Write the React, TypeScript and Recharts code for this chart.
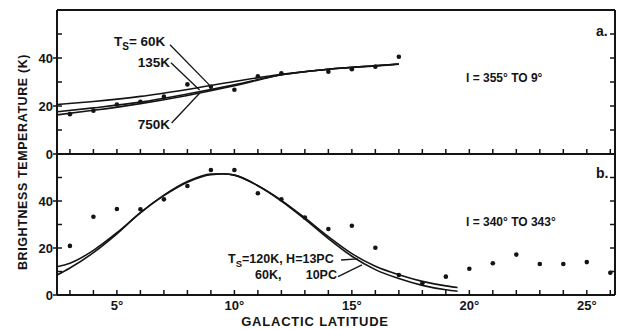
import { ComposedChart, Line, Scatter, XAxis, YAxis, ReferenceLine } from "recharts";

// panel a: l = 355 to 9
const TOP_OBS = [
  { lat: 3, t: 16.6 }, { lat: 4, t: 18 }, { lat: 5, t: 20.6 }, { lat: 6, t: 21.8 },
  { lat: 7, t: 23.9 }, { lat: 8, t: 29 }, { lat: 9, t: 28 }, { lat: 10, t: 26.8 },
  { lat: 11, t: 32.4 }, { lat: 12, t: 33.6 }, { lat: 14, t: 34.3 }, { lat: 15, t: 35.3 },
  { lat: 16, t: 36.4 }, { lat: 17, t: 40.5 },
];
const TOP_60K = [
  { lat: 2.45, t: 20.6 }, { lat: 4, t: 21.9 }, { lat: 6, t: 24 }, { lat: 8, t: 26.9 },
  { lat: 10, t: 30.2 }, { lat: 12, t: 33.2 }, { lat: 14, t: 35.3 }, { lat: 16, t: 36.7 },
  { lat: 17, t: 37.4 },
];
const TOP_135K = [
  { lat: 2.45, t: 17.6 }, { lat: 4, t: 19.2 }, { lat: 6, t: 21.6 }, { lat: 8, t: 25 },
  { lat: 10, t: 28.8 }, { lat: 12, t: 33 }, { lat: 14, t: 35.3 }, { lat: 16, t: 36.8 },
  { lat: 17, t: 37.5 },
];
const TOP_750K = [
  { lat: 2.45, t: 16.3 }, { lat: 4, t: 18.2 }, { lat: 6, t: 21 }, { lat: 8, t: 24.4 },
  { lat: 10, t: 28.4 }, { lat: 12, t: 33 }, { lat: 14, t: 35.3 }, { lat: 16, t: 36.8 },
  { lat: 17, t: 37.5 },
];

// panel b: l = 340 to 343
const BOT_OBS = [
  { lat: 3, t: 20.9 }, { lat: 4, t: 33.3 }, { lat: 5, t: 36.6 }, { lat: 6, t: 36.5 },
  { lat: 7, t: 40.7 }, { lat: 8, t: 46.4 }, { lat: 9, t: 53.2 }, { lat: 10, t: 53.2 },
  { lat: 11, t: 43.3 }, { lat: 12, t: 40.7 }, { lat: 13, t: 33 }, { lat: 14, t: 28.1 },
  { lat: 15, t: 29.5 }, { lat: 16, t: 20.1 }, { lat: 17, t: 8.5 }, { lat: 18, t: 5 },
  { lat: 19, t: 7.8 }, { lat: 20, t: 11.2 }, { lat: 21, t: 13.5 }, { lat: 22, t: 17.2 },
  { lat: 23, t: 13.2 }, { lat: 24, t: 13.2 }, { lat: 25, t: 14 }, { lat: 26, t: 9.5 },
];
const BOT_120K = [
  { lat: 2.45, t: 12 }, { lat: 3, t: 13.5 }, { lat: 4, t: 19 }, { lat: 5, t: 26.5 },
  { lat: 6, t: 35 }, { lat: 7, t: 42.3 }, { lat: 8, t: 48 }, { lat: 9, t: 51.2 },
  { lat: 9.5, t: 51.5 }, { lat: 10, t: 51 }, { lat: 11, t: 46.5 }, { lat: 12, t: 40.3 },
  { lat: 13, t: 32.8 }, { lat: 14, t: 24.8 }, { lat: 15, t: 17.6 }, { lat: 16, t: 12.2 },
  { lat: 17, t: 8.6 }, { lat: 18, t: 5.8 }, { lat: 19, t: 3.9 }, { lat: 19.5, t: 3.2 },
];
const BOT_60K = [
  { lat: 2.45, t: 8.5 }, { lat: 3, t: 11.5 }, { lat: 4, t: 18 }, { lat: 5, t: 26 },
  { lat: 6, t: 35 }, { lat: 7, t: 42.5 }, { lat: 8, t: 48.3 }, { lat: 9, t: 51.5 },
  { lat: 9.5, t: 51.6 }, { lat: 10, t: 51 }, { lat: 11, t: 46.5 }, { lat: 12, t: 40 },
  { lat: 13, t: 32.3 }, { lat: 14, t: 24 }, { lat: 15, t: 16.5 }, { lat: 16, t: 10.8 },
  { lat: 17, t: 7 }, { lat: 18, t: 4.1 }, { lat: 19, t: 2.2 }, { lat: 19.5, t: 1.6 },
];

const LAT_TICKS = [3, 4, 5, 6, 7, 8, 9, 10, 11, 12, 13, 14, 15, 16, 17, 18, 19, 20, 21, 22, 23, 24, 25, 26];
const LAT_LABELS = [5, 10, 15, 20, 25];
const T_TICKS = [0, 10, 20, 30, 40, 50];
const T_LABELS = [0, 20, 40];

const INK = "#141414";
const FONT = "'Liberation Sans', Arial, sans-serif";
const LAT_MIN = 2.45;
const LAT_MAX = 26.2;
const T_MAX = 60;
const TICK = 5;

const txt = { fontFamily: FONT, fontWeight: 700, fill: INK } as const;

const Dot = (p: any) => <circle cx={p.cx} cy={p.cy} r={2.3} fill={INK} />;

// inward ticks, drawn from the axis position recharts hands us (tickSize/tickMargin = 0)
const BottomTick = (p: any) => {
  const v = p.payload.value;
  return (
    <g>
      <line x1={p.x} x2={p.x} y1={p.y} y2={p.y - TICK} stroke={INK} strokeWidth={1.5} />
      {p.labels && LAT_LABELS.includes(v) && (
        <text {...txt} fontSize={13} x={p.x} y={p.y + 15} textAnchor="middle">{`${v}°`}</text>
      )}
    </g>
  );
};
const TopTick = (p: any) => (
  <line x1={p.x} x2={p.x} y1={p.y} y2={p.y + TICK} stroke={INK} strokeWidth={1.5} />
);
const LeftTick = (p: any) => {
  const v = p.payload.value;
  const major = T_LABELS.includes(v);
  return (
    <g>
      <line x1={major ? p.x - 4 : p.x} x2={p.x + TICK} y1={p.y} y2={p.y} stroke={INK} strokeWidth={1.5} />
      {major && (
        <text {...txt} fontSize={13} x={p.x - 4} y={p.y + 5} textAnchor="end">{v}</text>
      )}
    </g>
  );
};
const RightTick = (p: any) => (
  <line x1={p.x} x2={p.x - TICK} y1={p.y} y2={p.y} stroke={INK} strokeWidth={1.5} />
);

function Axes(labels: boolean) {
  return [
    <XAxis
      key="xb"
      xAxisId="b"
      type="number"
      dataKey="lat"
      domain={[LAT_MIN, LAT_MAX]}
      allowDataOverflow
      ticks={LAT_TICKS}
      interval={0}
      height={labels ? 34 : 1}
      tick={(p: any) => <BottomTick {...p} labels={labels} />}
      tickSize={0}
      tickMargin={0}
      tickLine={false}
      axisLine={false}
    />,
    <XAxis
      key="xt"
      xAxisId="t"
      orientation="top"
      type="number"
      domain={[LAT_MIN, LAT_MAX]}
      allowDataOverflow
      ticks={LAT_TICKS}
      interval={0}
      height={1}
      tick={TopTick}
      tickSize={0}
      tickMargin={0}
      tickLine={false}
      axisLine={false}
    />,
    <YAxis
      key="yl"
      yAxisId="l"
      dataKey="t"
      type="number"
      domain={[0, T_MAX]}
      allowDataOverflow
      ticks={T_TICKS}
      interval={0}
      width={57}
      tick={LeftTick}
      tickSize={0}
      tickMargin={0}
      tickLine={false}
      axisLine={false}
    />,
    <YAxis
      key="yr"
      yAxisId="r"
      orientation="right"
      type="number"
      domain={[0, T_MAX]}
      allowDataOverflow
      ticks={[10, 20, 30, 40, 50]}
      interval={0}
      width={9}
      tick={RightTick}
      tickSize={0}
      tickMargin={0}
      tickLine={false}
      axisLine={false}
    />,
    // box round the panel
    <ReferenceLine key="f1" xAxisId="b" yAxisId="l" x={LAT_MIN} stroke={INK} strokeWidth={2} />,
    <ReferenceLine key="f2" xAxisId="b" yAxisId="l" x={LAT_MAX} stroke={INK} strokeWidth={2} />,
    <ReferenceLine key="f3" xAxisId="b" yAxisId="l" y={0} stroke={INK} strokeWidth={2} />,
    <ReferenceLine key="f4" xAxisId="b" yAxisId="l" y={T_MAX} stroke={INK} strokeWidth={2} />,
  ];
}

const curve = (data: any[], key: string) => (
  <Line
    key={key}
    xAxisId="b"
    yAxisId="l"
    data={data}
    dataKey="t"
    type="monotone"
    stroke={INK}
    strokeWidth={1.6}
    dot={false}
    activeDot={false}
    isAnimationActive={false}
  />
);

const leader = (key: string, a: [number, number], b: [number, number]) => (
  <ReferenceLine
    key={key}
    xAxisId="b"
    yAxisId="l"
    segment={[{ x: a[0], y: a[1] }, { x: b[0], y: b[1] }]}
    stroke={INK}
    strokeWidth={1.3}
  />
);

export default function App() {
  return (
    <div style={{ position: "absolute", left: 0, top: 0, width: 624, height: 329, background: "#fff", overflow: "hidden" }}>
      <div style={{ position: "absolute", left: 0, top: 153 }}>
        <ComposedChart width={624} height={176} margin={{ top: 0, right: 0, bottom: 0, left: 0 }}>
          {Axes(true)}
          {curve(BOT_120K, "c120")}
          {curve(BOT_60K, "c60b")}
          {leader("l120", [14.54, 14.9], [15.25, 15.4])}
          {leader("l60b", [14.41, 7.8], [15.43, 12.8])}
          <Scatter xAxisId="b" yAxisId="l" data={BOT_OBS} dataKey="t" shape={Dot} isAnimationActive={false} />
        </ComposedChart>
      </div>
      <div style={{ position: "absolute", left: 0, top: 0 }}>
        <ComposedChart width={624} height={175} margin={{ top: 9, right: 0, bottom: 20, left: 0 }}>
          {Axes(false)}
          {curve(TOP_60K, "c60")}
          {curve(TOP_135K, "c135")}
          {curve(TOP_750K, "c750")}
          {leader("l60", [7.26, 45.5], [8.95, 28.6])}
          {leader("l135", [7.3, 38], [8.52, 26.7])}
          {leader("l750", [7.33, 12.9], [8.53, 25.4])}
          <Scatter xAxisId="b" yAxisId="l" data={TOP_OBS} dataKey="t" shape={Dot} isAnimationActive={false} />
        </ComposedChart>
      </div>
      <svg width={624} height={329} style={{ position: "absolute", left: 0, top: 0, pointerEvents: "none" }}>
        <text {...txt} fontSize={12.5} letterSpacing={0.6} textAnchor="middle" transform="translate(27,162) rotate(-90)">
          BRIGHTNESS TEMPERATURE (K)
        </text>
        <text {...txt} fontSize={13} letterSpacing={0.8} textAnchor="middle" x={315} y={326}>
          GALACTIC LATITUDE
        </text>
        <text {...txt} fontSize={14} x={596} y={36}>a.</text>
        <text {...txt} fontSize={14} x={596} y={178}>b.</text>
        <text {...txt} fontSize={12} x={466} y={82}>l = 355° TO 9°</text>
        <text {...txt} fontSize={12} x={466} y={226}>l = 340° TO 343°</text>
        <text {...txt} fontSize={13.5} x={114} y={46}>
          T<tspan fontSize={10} dy={4}>S</tspan><tspan dy={-4}>= 60K</tspan>
        </text>
        <text {...txt} fontSize={13.5} x={170} y={67} textAnchor="end">135K</text>
        <text {...txt} fontSize={13.5} x={170} y={129} textAnchor="end">750K</text>
        <text {...txt} fontSize={12.5} x={228} y={263}>
          T<tspan fontSize={9.5} dy={4}>S</tspan><tspan dy={-4}>=120K, H=13PC</tspan>
        </text>
        <text {...txt} fontSize={12.5} x={255} y={279}>60K,</text>
        <text {...txt} fontSize={12.5} x={337} y={279} textAnchor="end">10PC</text>
      </svg>
    </div>
  );
}
